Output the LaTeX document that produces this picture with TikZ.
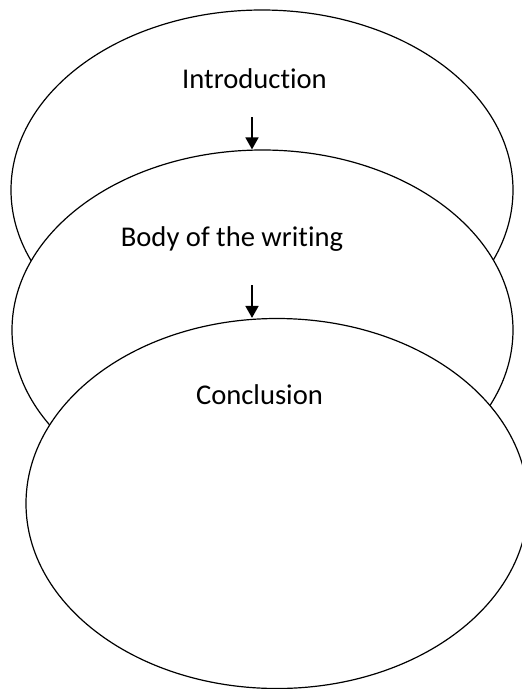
\documentclass[tikz,border=0pt]{standalone}
\usepackage{fontspec}
\setmainfont{Carlito}[Ligatures={NoCommon,NoRare,NoContextual}]
\usetikzlibrary{shapes.geometric,arrows.meta}
\begin{document}
\begin{tikzpicture}[x=1pt,y=-1pt,
  oval/.style={draw=black,line width=1.2pt,fill=white,ellipse,inner sep=0pt},
  lbl/.style={anchor=base,inner sep=0pt,font=\fontsize{28.6}{34}\selectfont},
  arr/.style={line width=1.8pt,-{Triangle[width=13pt,length=12pt]}}]
\clip (0,0) rectangle (522,689);
\fill[white] (0,0) rectangle (522,689);
\node[oval,minimum width=502pt,minimum height=360pt] (e1) at (262,190) {};
\node[oval,minimum width=501pt,minimum height=360pt] (e2) at (262.5,330) {};
\node[oval,minimum width=502pt,minimum height=370pt] (e3) at (277,503.5) {};
\node[lbl] (t1) at (254.5,88) {Introduction};
\node[lbl] (t2) at (232,246) {Body of the writing};
\node[lbl] (t3) at (259.5,404) {Conclusion};
\coordinate (a1) at (252,117);
\coordinate (a2) at (252,285);
\draw[arr] (a1) -- (a1 |- e2.north);
\draw[arr] (a2) -- (a2 |- e3.north);
\end{tikzpicture}
\end{document}
